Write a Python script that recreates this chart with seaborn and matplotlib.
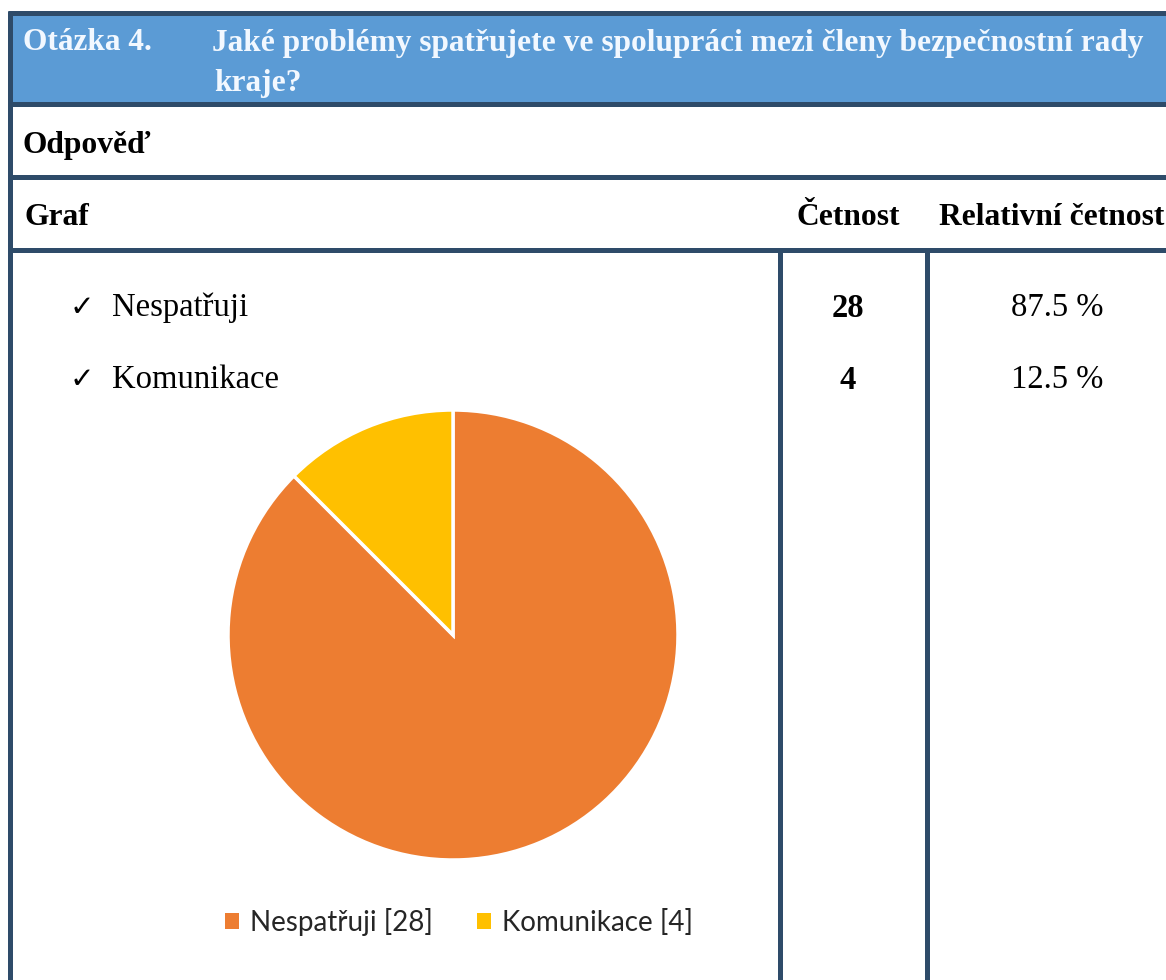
import matplotlib
matplotlib.use("Agg")
import matplotlib.pyplot as plt
import seaborn as sns
from matplotlib.patches import Rectangle, Patch

# data
question_no = "Otázka 4."
question = ["Jaké problémy spatřujete ve spolupráci mezi členy bezpečnostní rady", "kraje?"]
categories = ["Nespatřuji", "Komunikace"]
counts = [28, 4]
rel_freq = ["87.5 %", "12.5 %"]
colors = ["#ED7D31", "#FFC000"]

sns.set_theme(style="white")
serif = ["Liberation Serif", "DejaVu Serif"]
plt.rcParams["font.family"] = serif
plt.rcParams["text.color"] = "black"

W, H = 1166, 980
border = "#2E4B69"
fig = plt.figure(figsize=(W / 100, H / 100), dpi=100)
ax = fig.add_axes([0, 0, 1, 1])
ax.set_xlim(0, W)
ax.set_ylim(H, 0)
ax.axis("off")
renderer = fig.canvas.get_renderer()


def fit(x, y, s, width, **kw):
    # scale font so the text is as wide as in the reference
    t = ax.text(x, y, s, va="center", family=serif, **kw)
    t.set_fontsize(t.get_fontsize() * width / t.get_window_extent(renderer).width)
    return t.get_fontsize()


# table frame
ax.add_patch(Rectangle((10, 13), W, 91, color="#5B9BD5", zorder=0))
ax.hlines([13, 104, 177, 250], 8, W, color=border, lw=3.6)
ax.vlines(10, 11, H, color=border, lw=3.6)
ax.vlines([779.5, 927], 250, H, color=border, lw=3.6)

# header
hsize = fit(212, 43, question[0], 922, color="#F2F8FF", weight="bold")
ax.text(23, 43, question_no, va="center", family=serif, color="#F2F8FF", weight="bold", fontsize=hsize)
ax.text(214, 83, question[1], va="center", family=serif, color="#F2F8FF", weight="bold", fontsize=hsize)

bsize = fit(939, 217, "Relativní četnost", 224, weight="bold")
ax.text(23, 145, "Odpověď", va="center", family=serif, weight="bold", fontsize=bsize)
ax.text(25, 217, "Graf", va="center", family=serif, weight="bold", fontsize=bsize)
ax.text(848, 217, "Četnost", va="center", ha="center", family=serif, weight="bold", fontsize=bsize)

# rows
rsize = fit(112, 308, categories[0], 136)
ys = [308, 380]
for i, (cat, n, rel) in enumerate(zip(categories, counts, rel_freq)):
    if i > 0:
        ax.text(112, ys[i], cat, va="center", family=serif, fontsize=rsize)
    ax.text(82, ys[i], "✓", va="center", ha="center", family="DejaVu Sans", fontsize=rsize * 0.9)
    ax.text(848, ys[i], str(n), va="center", ha="center", family=serif, weight="bold", fontsize=rsize)
    ax.text(1057, ys[i], rel, va="center", ha="center", family=serif, fontsize=rsize)

# pie
cx, cy, r = 453, 635, 225
pax = fig.add_axes([(cx - r) / W, (H - cy - r) / H, 2 * r / W, 2 * r / H])
pax.pie(counts, colors=colors, startangle=90, counterclock=False,
        wedgeprops=dict(edgecolor="white", linewidth=2.5))
pax.set_xlim(-1, 1)
pax.set_ylim(-1, 1)

# legend
labels = [f"{c} [{n}]" for c, n in zip(categories, counts)]
tmp = ax.text(0, 0, labels[0], family="Lato", fontsize=20)
lsize = 20 * 183 / tmp.get_window_extent(renderer).width
tmp.remove()
handles = [Patch(facecolor=c, edgecolor="none") for c in colors]
fig.legend(handles, labels, loc="center left", bbox_to_anchor=(225 / W, 1 - 922 / H),
           ncol=2, frameon=False, prop={"family": "Lato", "size": lsize},
           labelcolor="#262626", handlelength=0.5, handleheight=0.5,
           handletextpad=0.4, columnspacing=1.6, borderpad=0, borderaxespad=0)

fig.savefig("out.png", dpi=100)
